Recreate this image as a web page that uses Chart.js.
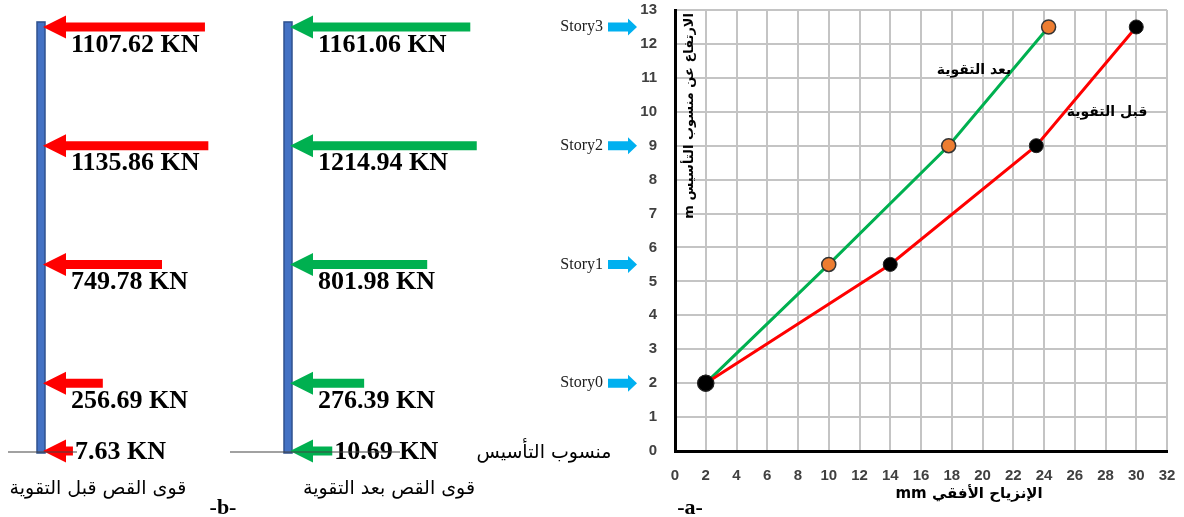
<!DOCTYPE html>
<html lang="ar">
<head>
<meta charset="utf-8">
<title>قوى القص والإنزياح الأفقي</title>
<script src="https://cdn.jsdelivr.net/npm/chart.js@4.4.1/dist/chart.umd.min.js"></script>
<style>
  html, body { margin: 0; padding: 0; background: #fff; }
  #wrap { position: relative; width: 1184px; height: 517px; overflow: hidden; }
  canvas { position: absolute; top: 0; }
</style>
</head>
<body>
<div id="wrap">
  <canvas id="shearBefore" width="250" height="517" style="left:0"></canvas>
  <canvas id="shearAfter" width="260" height="517" style="left:220px"></canvas>
  <canvas id="drift" width="714" height="517" style="left:470px"></canvas>
</div>
<script>
// story levels above foundation (m)
const storyNames = ['Story0', 'Story1', 'Story2', 'Story3']
const storyLevels = [2, 5.5, 9, 12.5]

// horizontal displacement (mm) per story
const dispBefore = [2, 14, 23.5, 30]
const dispAfter = [2, 10, 17.8, 24.3]

// shear forces (KN), foundation level first
const forceLevels = [0, 2, 5.5, 9, 12.5]
const shearBefore = [7.63, 256.69, 749.78, 1135.86, 1107.62]
const shearAfter = [10.69, 276.39, 801.98, 1214.94, 1161.06]

// axis ranges
const heightMax = 13
const dispMax = 32
const dispStep = 2

// every panel shares the same vertical layout
const PAD_TOP = 10
const PAD_BOTTOM = 66

const serif = '"Liberation Serif", "Times New Roman", serif'
const arabic = '"DejaVu Sans", sans-serif'

// column + horizontal force arrows, one per level
const forceArrows = (color, opt) => ({
  id: 'forceArrows',
  afterDraw(chart) {
    const { ctx, scales: { x, y } } = chart
    const pts = chart.data.datasets[0].data
    const colX = opt.colX
    const yBase = y.getPixelForValue(0)
    const yTop = y.getPixelForValue(Math.max(...forceLevels))
    ctx.save()

    ctx.fillStyle = '#4472C4'
    ctx.strokeStyle = '#2F528F'
    ctx.lineWidth = 1.5
    ctx.fillRect(colX - 4, yTop - 5, 8, yBase - yTop + 7)
    ctx.strokeRect(colX - 4, yTop - 5, 8, yBase - yTop + 7)

    pts.forEach(p => {
      const py = y.getPixelForValue(p.y)
      const tip = colX + 2
      const tail = x.getPixelForValue(p.x)
      ctx.fillStyle = color
      ctx.beginPath()
      ctx.moveTo(tip, py)
      ctx.lineTo(tip + 23, py - 11.5)
      ctx.lineTo(tip + 23, py - 4.5)
      ctx.lineTo(tail, py - 4.5)
      ctx.lineTo(tail, py + 4.5)
      ctx.lineTo(tip + 23, py + 4.5)
      ctx.lineTo(tip + 23, py + 11.5)
      ctx.closePath()
      ctx.fill()

      ctx.fillStyle = '#000'
      ctx.font = 'bold 26px ' + serif
      ctx.textAlign = 'left'
      ctx.textBaseline = 'middle'
      const text = p.x.toFixed(2) + ' KN'
      if (p.y === 0) ctx.fillText(text, tail + 2, py + 1)
      else ctx.fillText(text, colX + 30, py + 18)
    })

    // foundation line
    ctx.strokeStyle = '#444'
    ctx.lineWidth = 1.2
    ctx.beginPath()
    ctx.moveTo(opt.groundFrom, yBase + 1)
    ctx.lineTo(opt.groundTo, yBase + 1)
    ctx.stroke()

    ctx.fillStyle = '#000'
    ctx.font = '19px ' + arabic
    ctx.textAlign = 'center'
    ctx.direction = 'rtl'
    ctx.fillText(opt.caption, opt.captionX, 489)
    if (opt.tag) {
      ctx.direction = 'ltr'
      ctx.font = 'bold 22px ' + serif
      ctx.fillText(opt.tag, opt.tagX, 508)
    }
    ctx.restore()
  }
})

function forcePanel(id, forces, color, opt) {
  return new Chart(document.getElementById(id), {
    type: 'scatter',
    data: {
      datasets: [{
        data: forceLevels.map((lvl, i) => ({ x: forces[i], y: lvl })),
        pointRadius: 0
      }]
    },
    options: {
      responsive: false,
      animation: false,
      events: [],
      layout: { padding: { top: PAD_TOP, bottom: PAD_BOTTOM, left: 0, right: 0 } },
      plugins: { legend: { display: false }, tooltip: { enabled: false } },
      scales: {
        x: { display: false, min: opt.xMin, max: opt.xMax },
        y: { display: false, min: 0, max: heightMax }
      }
    },
    plugins: [forceArrows(color, opt)]
  })
}

forcePanel('shearBefore', shearBefore, '#FF0000', {
  xMin: -600, xMax: 1483, colX: 41,
  groundFrom: 8, groundTo: 77,
  caption: 'قوى القص قبل التقوية', captionX: 98,
  tag: '-b-', tagX: 223
})

forcePanel('shearAfter', shearAfter, '#00B050', {
  xMin: -925, xMax: 1242, colX: 68,
  groundFrom: 10, groundTo: 180,
  caption: 'قوى القص بعد التقوية', captionX: 169
})

// story markers, axis titles and curve labels
const driftText = {
  id: 'driftText',
  afterDraw(chart) {
    const { ctx, chartArea: area, scales: { y } } = chart
    ctx.save()

    storyLevels.forEach((lvl, i) => {
      const py = y.getPixelForValue(lvl)
      const x0 = area.left - 67
      ctx.fillStyle = '#00B0F0'
      ctx.beginPath()
      ctx.moveTo(x0, py - 4.5)
      ctx.lineTo(x0 + 20, py - 4.5)
      ctx.lineTo(x0 + 20, py - 8.5)
      ctx.lineTo(x0 + 29, py)
      ctx.lineTo(x0 + 20, py + 8.5)
      ctx.lineTo(x0 + 20, py + 4.5)
      ctx.lineTo(x0, py + 4.5)
      ctx.closePath()
      ctx.fill()
      ctx.fillStyle = '#222'
      ctx.font = '16px ' + serif
      ctx.textAlign = 'right'
      ctx.textBaseline = 'middle'
      ctx.fillText(storyNames[i], x0 - 5, py)
    })

    ctx.fillStyle = '#000'
    ctx.direction = 'rtl'
    ctx.textAlign = 'center'
    ctx.textBaseline = 'middle'
    ctx.font = '19px ' + arabic
    ctx.fillText('منسوب التأسيس', 74, y.getPixelForValue(0) + 2)

    ctx.font = 'bold 15px ' + arabic
    ctx.fillText('الإنزياح الأفقي mm', 499, 494)

    ctx.font = 'bold 14px ' + arabic
    ctx.fillText('بعد التقوية', 504, 70)
    ctx.fillText('قبل التقوية', 637, 112)

    // vertical axis title inside the plot
    const yTitle = 'الارتفاع عن منسوب التأسيس m'
    ctx.font = 'bold 13px ' + arabic
    const w = ctx.measureText(yTitle).width
    ctx.save()
    ctx.translate(area.left + 15, area.top + 3 + w / 2)
    ctx.rotate(-Math.PI / 2)
    ctx.fillText(yTitle, 0, 0)
    ctx.restore()

    ctx.direction = 'ltr'
    ctx.font = 'bold 22px ' + serif
    ctx.fillText('-a-', 220, 508)
    ctx.restore()
  }
}

const tickFont = { family: '"Liberation Sans", Arial, sans-serif', weight: 'bold', size: 15 }

// tick labels should not push the plot area inwards
const noScalePadding = s => {
  s.paddingTop = 0
  s.paddingBottom = 0
  s.paddingLeft = 0
  s.paddingRight = 0
}

new Chart(document.getElementById('drift'), {
  type: 'scatter',
  data: {
    datasets: [
      {
        label: 'قبل التقوية',
        data: dispBefore.map((d, i) => ({ x: d, y: storyLevels[i] })),
        showLine: true,
        borderColor: '#FF0000',
        borderWidth: 3,
        pointBackgroundColor: '#000',
        pointBorderColor: '#222',
        pointBorderWidth: 1,
        pointRadius: [8, 7, 7, 7]
      },
      {
        label: 'بعد التقوية',
        data: dispAfter.map((d, i) => ({ x: d, y: storyLevels[i] })),
        showLine: true,
        borderColor: '#00B050',
        borderWidth: 3,
        pointBackgroundColor: ['#000', '#ED7D31', '#ED7D31', '#ED7D31'],
        pointBorderColor: '#333',
        pointBorderWidth: 1.5,
        pointRadius: [8, 7, 7, 7]
      }
    ]
  },
  options: {
    responsive: false,
    animation: false,
    events: [],
    layout: { padding: { top: PAD_TOP, right: 17, left: 0, bottom: 0 } },
    plugins: { legend: { display: false }, tooltip: { enabled: false } },
    scales: {
      x: {
        type: 'linear',
        min: 0,
        max: dispMax,
        ticks: { stepSize: dispStep, padding: 16, color: '#404040', font: tickFont },
        grid: { color: '#C4C4C4', lineWidth: 2, drawTicks: false },
        border: { color: '#000', width: 3 },
        afterFit: s => { s.height = PAD_BOTTOM; noScalePadding(s) }
      },
      y: {
        min: 0,
        max: heightMax,
        ticks: { stepSize: 1, padding: 18, color: '#404040', font: tickFont },
        grid: { color: '#C4C4C4', lineWidth: 2, drawTicks: false },
        border: { color: '#000', width: 3 },
        afterFit: s => { s.width = 205; noScalePadding(s) }
      }
    }
  },
  plugins: [driftText]
})
</script>
</body>
</html>
